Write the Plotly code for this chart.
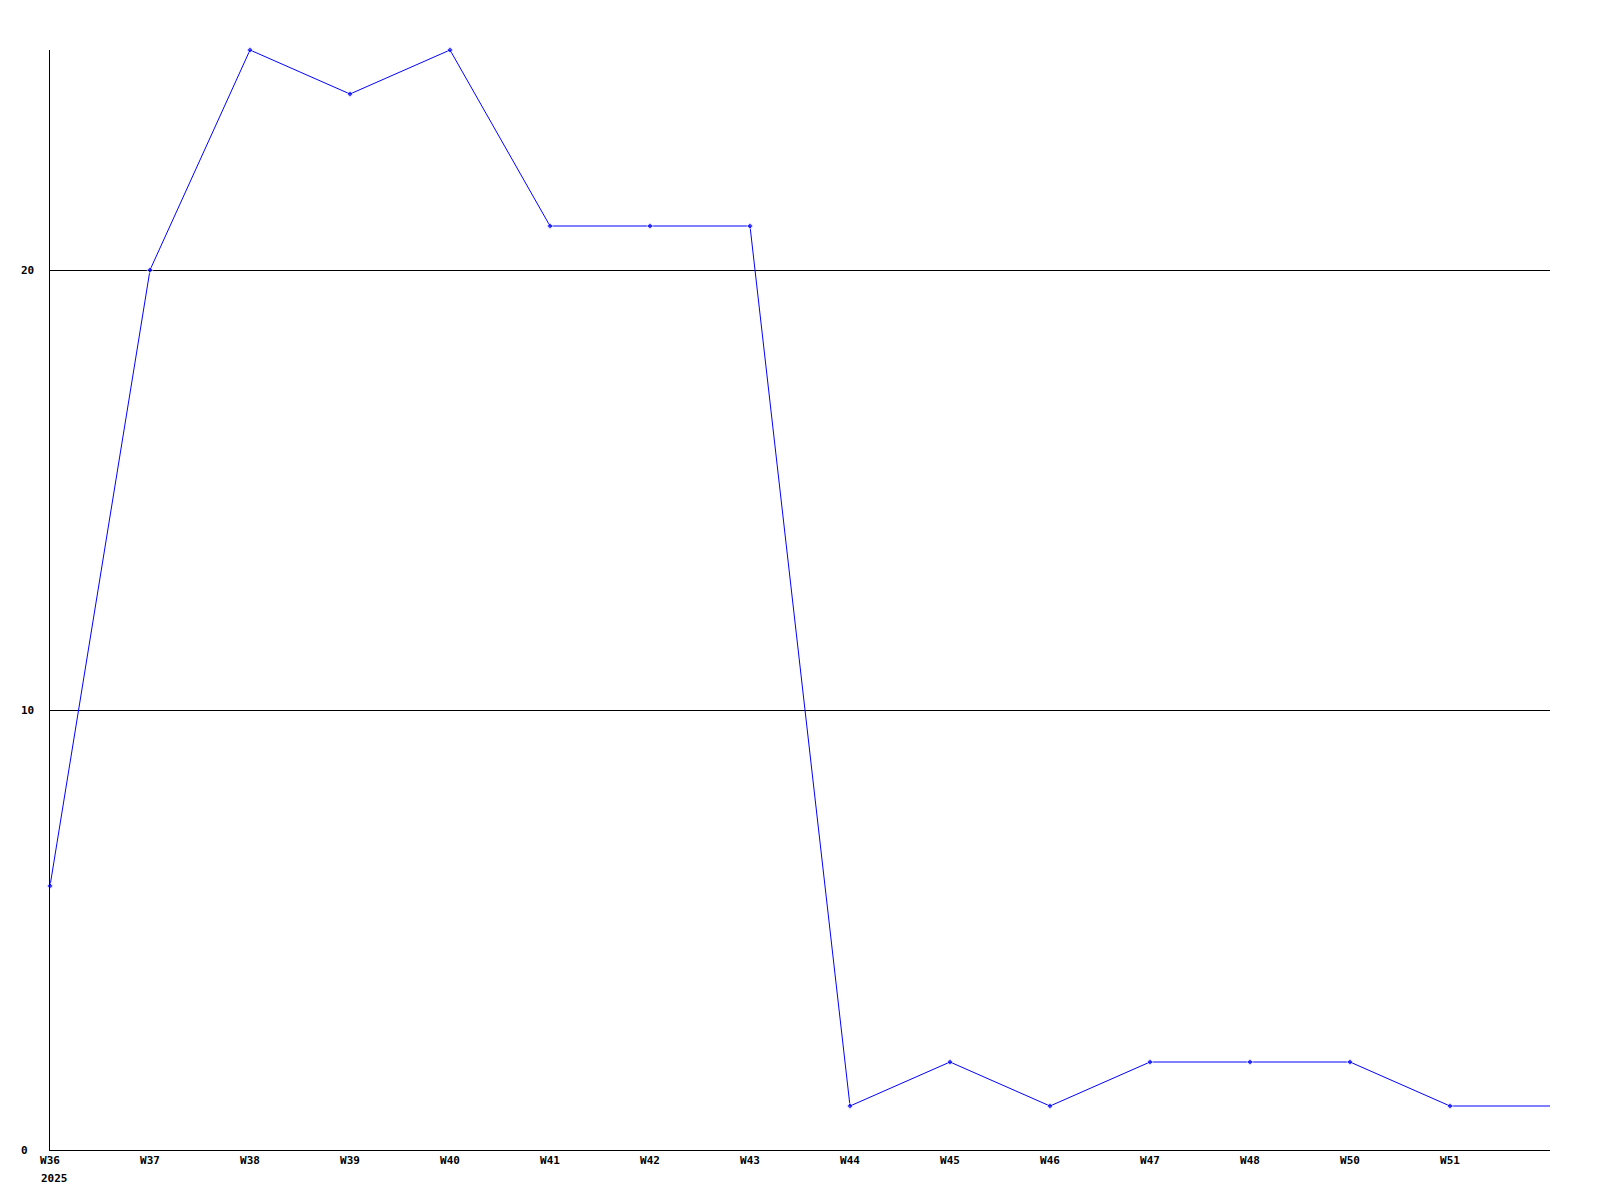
import plotly.graph_objects as go

weeks = ["W36", "W37", "W38", "W39", "W40", "W41", "W42", "W43",
         "W44", "W45", "W46", "W47", "W48", "W50", "W51"]
values = [6, 20, 25, 24, 25, 21, 21, 21, 1, 2, 1, 2, 2, 2, 1]
tail_value = 1          # line continues flat to the right edge
year_label = "2025"
y_ticks = [0, 10, 20]
y_max = 25

FONT = dict(family="DejaVu Sans Mono", size=11, color="#000000", weight="bold")

xs = list(range(len(weeks)))
fig = go.Figure()
fig.add_trace(go.Scatter(
    x=xs + [len(weeks)], y=values + [tail_value],
    mode="lines+markers",
    line=dict(color="#0000FF", width=1),
    marker=dict(symbol="diamond", size=[5] * len(weeks) + [0], color="#0000FF"),
    cliponaxis=False, showlegend=False,
))

annotations = []
for t in y_ticks:
    annotations.append(dict(
        x=0, xref="paper", y=t, yref="y", text=str(t), showarrow=False,
        xanchor="left", yanchor="middle", xshift=-31, font=FONT))
annotations.append(dict(
    x=0, xref="x", y=0, yref="y", text=year_label, showarrow=False,
    xanchor="left", yanchor="top", xshift=-11, yshift=-20, font=FONT))

fig.update_layout(
    width=1592, height=1192,
    margin=dict(l=42, r=50, t=42, b=50, pad=0),
    paper_bgcolor="white", plot_bgcolor="white",
    font=FONT,
    annotations=annotations,
    xaxis=dict(range=[0, len(weeks)], tickvals=xs, ticktext=weeks,
               showgrid=False, zeroline=False, showline=True,
               linecolor="black", linewidth=1, ticks="", tickfont=FONT),
    yaxis=dict(range=[0, y_max], tickvals=y_ticks, showticklabels=False,
               showgrid=True, gridcolor="black", gridwidth=1,
               zeroline=False, showline=True, linecolor="black", linewidth=1,
               ticks=""),
)

fig.write_html("out.html")
